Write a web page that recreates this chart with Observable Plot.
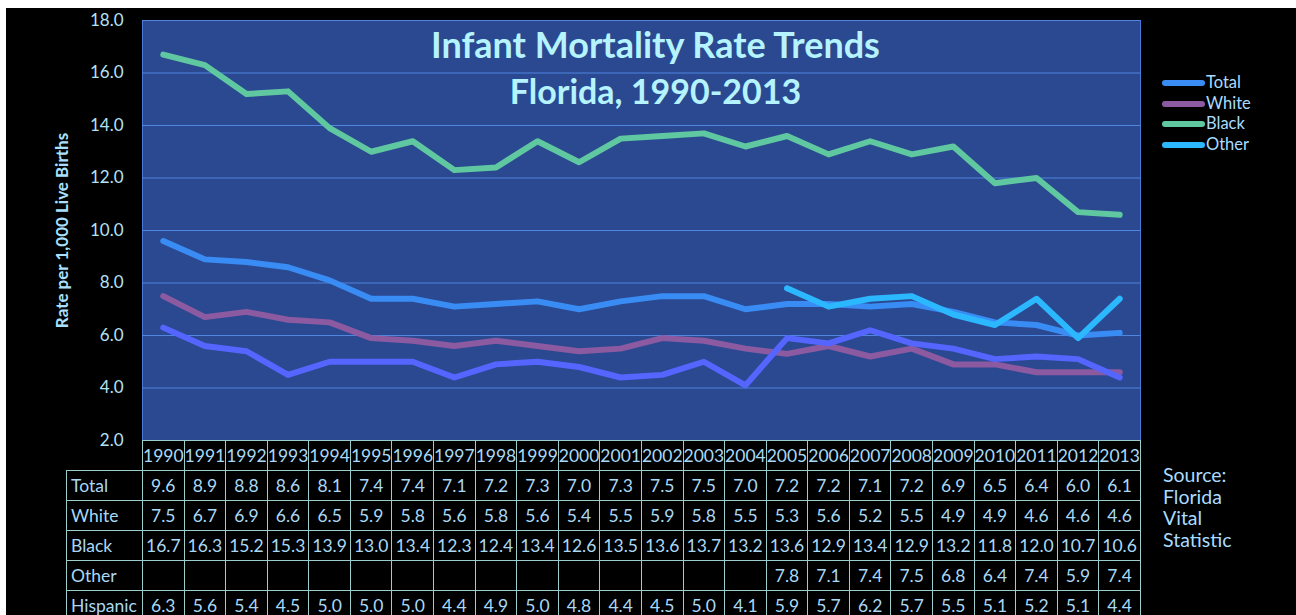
<!DOCTYPE html>
<html>
<head>
<meta charset="utf-8">
<script src="https://cdn.jsdelivr.net/npm/d3@7"></script>
<script src="https://cdn.jsdelivr.net/npm/@observablehq/plot@0.6"></script>
<style>
  html, body { margin: 0; padding: 0; background: #fff; }
  #wrap { position: absolute; left: 6px; top: 8px; width: 1290px; height: 607px; background: #000; overflow: hidden; }
  #chart { position: absolute; left: -6px; top: -8px; }
  #tbl { position: absolute; border-collapse: collapse; table-layout: fixed; font-family: Lato, sans-serif; font-size: 17.5px; color: #a9d9f5; }
  #tbl td { border: 1px solid #9ccccc; height: 29px; padding: 0; text-align: center; white-space: nowrap; overflow: hidden; }
  #tbl td.lab { text-align: left; padding-left: 4px; }
  #tbl td.blank { border: none; }
  .leg { position: absolute; font-family: Lato, sans-serif; font-size: 16.5px; color: #a9dcff; }
  .leg span.sw { position: absolute; width: 43px; height: 6px; border-radius: 3px; }
  #source { position: absolute; font-family: Lato, sans-serif; font-size: 19.5px; line-height: 21.5px; color: #a9dcff; }
</style>
</head>
<body>
<div id="wrap"><div id="chart"></div></div>
<script>
const years = [1990,1991,1992,1993,1994,1995,1996,1997,1998,1999,2000,2001,2002,2003,2004,2005,2006,2007,2008,2009,2010,2011,2012,2013];
const total    = [9.6,8.9,8.8,8.6,8.1,7.4,7.4,7.1,7.2,7.3,7.0,7.3,7.5,7.5,7.0,7.2,7.2,7.1,7.2,6.9,6.5,6.4,6.0,6.1];
const white    = [7.5,6.7,6.9,6.6,6.5,5.9,5.8,5.6,5.8,5.6,5.4,5.5,5.9,5.8,5.5,5.3,5.6,5.2,5.5,4.9,4.9,4.6,4.6,4.6];
const black    = [16.7,16.3,15.2,15.3,13.9,13.0,13.4,12.3,12.4,13.4,12.6,13.5,13.6,13.7,13.2,13.6,12.9,13.4,12.9,13.2,11.8,12.0,10.7,10.6];
const other    = [null,null,null,null,null,null,null,null,null,null,null,null,null,null,null,7.8,7.1,7.4,7.5,6.8,6.4,7.4,5.9,7.4];
const hispanic = [6.3,5.6,5.4,4.5,5.0,5.0,5.0,4.4,4.9,5.0,4.8,4.4,4.5,5.0,4.1,5.9,5.7,6.2,5.7,5.5,5.1,5.2,5.1,4.4];
const yTicks = [2,4,6,8,10,12,14,16,18];
const seriesNames = ["Total","White","Black","Other","Hispanic"];
const seriesVals  = [total, white, black, other, hispanic];
const colors = {Total:"#3a8cf5", White:"#8c5aa0", Black:"#5fc8a0", Other:"#2cb8ff", Hispanic:"#5466ff"};
const legendNames = ["Total","White","Black","Other"];
const drawOrder = ["Black","White","Hispanic","Total","Other"];
const titleLines = ["Infant Mortality Rate Trends", "Florida, 1990-2013"];
const yLabel = "Rate per 1,000 Live Births";
const sourceLines = ["Source:", "Florida", "Vital", "Statistic"];

const rows = [];
seriesNames.forEach((s, i) => years.forEach((yr, j) => {
  if (seriesVals[i][j] != null) rows.push({series: s, year: String(yr), value: seriesVals[i][j]});
}));

const FONT = "Lato, 'Open Sans', sans-serif";
const txt = "#b3e2f5";

const chart = Plot.plot({
  width: 1296, height: 460,
  marginTop: 20, marginBottom: 20, marginLeft: 142, marginRight: 156,
  style: {background: "transparent", fontFamily: FONT, color: txt, overflow: "visible"},
  x: {type: "band", domain: years.map(String), padding: 0, round: false, axis: null},
  y: {domain: [2, 18], axis: null},
  marks: [
    Plot.frame({fill: "#2b4990", stroke: "#4a7ad8"}),
    Plot.ruleY(yTicks, {stroke: "#4f86e0", strokeWidth: 1.2}),
    Plot.axisY(yTicks, {tickSize: 0, tickPadding: 19, tickFormat: d => d.toFixed(1), fontSize: 17, fill: txt, label: null}),
    Plot.text([yLabel], {frameAnchor: "left", dx: -80, rotate: -90, textAnchor: "middle", fontSize: 17, fontWeight: "bold", fill: "#a9e0ff"}),
    ...drawOrder.map(s => Plot.line(rows.filter(r => r.series === s), {
      x: "year", y: "value", stroke: colors[s], strokeWidth: 6, strokeLinejoin: "round", strokeLinecap: "round"
    })),
    Plot.text([titleLines[0]], {frameAnchor: "top", dy: 26, dx: 14, fontSize: 36, fontWeight: "bold", fill: "#b5f3ff", lineAnchor: "middle"}),
    Plot.text([titleLines[1]], {frameAnchor: "top", dy: 73, dx: 14, fontSize: 34, fontWeight: "bold", fill: "#b5f3ff", lineAnchor: "middle"})
  ]
});
document.getElementById("chart").appendChild(chart);

// data table below the plot, aligned with the x band scale
const xs = chart.scale("x");
const bw = xs.bandwidth;
const x0 = xs.apply(String(years[0]));
const labW = 76;
const tbl = document.createElement("table");
tbl.id = "tbl";
tbl.style.left = (x0 - labW - 6) + "px";
tbl.style.top = (440 - 8) + "px";
const cg = document.createElement("colgroup");
const c0 = document.createElement("col"); c0.style.width = labW + "px"; cg.appendChild(c0);
years.forEach(() => { const c = document.createElement("col"); c.style.width = bw + "px"; cg.appendChild(c); });
tbl.appendChild(cg);
tbl.style.width = (labW + bw * years.length) + "px";
const hr = document.createElement("tr");
const hb = document.createElement("td"); hb.className = "blank"; hr.appendChild(hb);
years.forEach(y => { const td = document.createElement("td"); td.textContent = y; hr.appendChild(td); });
tbl.appendChild(hr);
seriesNames.forEach((s, i) => {
  const tr = document.createElement("tr");
  const l = document.createElement("td"); l.className = "lab"; l.textContent = s; tr.appendChild(l);
  seriesVals[i].forEach(v => { const td = document.createElement("td"); td.textContent = v == null ? "" : v.toFixed(1); tr.appendChild(td); });
  tbl.appendChild(tr);
});
document.getElementById("wrap").appendChild(tbl);

// legend
legendNames.forEach((s, i) => {
  const d = document.createElement("div");
  d.className = "leg";
  d.style.left = (1162 - 6) + "px";
  d.style.top = (83 - 8 - 11 + i * 20.5) + "px";
  d.innerHTML = `<span class="sw" style="left:0;top:8px;background:${colors[s]}"></span><span style="position:absolute;left:44px;top:0">${s}</span>`;
  document.getElementById("wrap").appendChild(d);
});

// source note
const src = document.createElement("div");
src.id = "source";
src.style.left = (1163 - 6) + "px";
src.style.top = (464 - 8) + "px";
src.innerHTML = sourceLines.join("<br>");
document.getElementById("wrap").appendChild(src);
</script>
</body>
</html>
